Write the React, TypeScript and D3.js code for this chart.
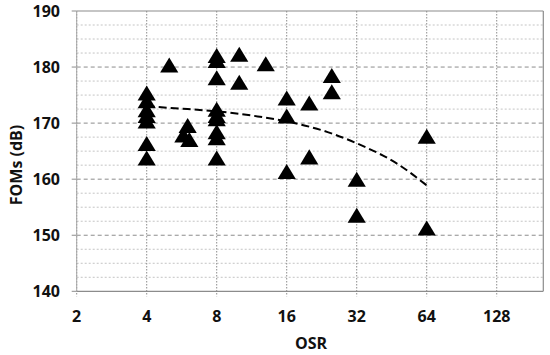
import React from 'react';
import * as d3 from 'd3';

// measured points (OSR, FOMs in dB)
const osrValues = [
  4, 4, 4, 4, 4, 4, 4,
  5,
  5.75, 6, 6.1,
  8, 8, 8, 8, 8, 8, 8, 8, 8,
  10, 10,
  13,
  16, 16, 16,
  20, 20,
  25, 25,
  32, 32,
  64, 64,
];
const fomValues = [
  175.2, 173.8, 172.2, 171.2, 170.2, 166.2, 163.6,
  180.2,
  167.7, 169.4, 166.9,
  181.9, 181.0, 177.9, 172.3, 171.2, 170.6, 168.3, 167.2, 163.6,
  182.1, 177.1,
  180.4,
  174.3, 171.1, 161.2,
  173.4, 163.8,
  178.3, 175.4,
  159.8, 153.4,
  167.5, 151.1,
];

// dashed trend line
const trendOsr = [4, 6, 8, 12, 16, 24, 32, 48, 64];
const trendFom = [173, 172.5, 172.1, 171.2, 170.3, 168.4, 166.4, 162.7, 158.9];

const xTicks = [2, 4, 8, 16, 32, 64, 128];
const yTicks = [140, 150, 160, 170, 180, 190];
const yMinorTicks = d3.range(140, 190.01, 2.5);

const width = 550;
const height = 355;
const left = 76.7;
const right = 543.3;
const top = 11;
const bottom = 291.3;
const font = "'Open Sans', sans-serif";

const App: React.FC = () => {
  const x = d3.scaleLog().base(2).domain([2, 203]).range([left, right]);
  const y = d3.scaleLinear().domain([140, 190]).range([bottom, top]);

  const trendLine = d3.line<number>()
    .x((_, i) => x(trendOsr[i]))
    .y(d => y(d))
    .curve(d3.curveMonotoneX);

  const tri = d3.symbol().type(d3.symbolTriangle).size(130)() || '';

  return (
    <svg width={width} height={height}
      style={{ position: 'absolute', left: 0, top: 0, background: '#fff' }}>
      {/* minor horizontal grid */}
      {yMinorTicks.filter(v => v % 10 !== 0).map(v => (
        <line key={'m' + v} x1={left} x2={right} y1={y(v)} y2={y(v)}
          stroke="#c4c4c4" strokeWidth={1} strokeDasharray="2,2" />
      ))}
      {/* major horizontal grid */}
      {yTicks.filter(v => v !== 140 && v !== 190).map(v => (
        <line key={'M' + v} x1={left} x2={right} y1={y(v)} y2={y(v)}
          stroke="#8c8c8c" strokeWidth={1} strokeDasharray="4,3" />
      ))}
      {/* vertical grid */}
      {xTicks.map(v => (
        <line key={'v' + v} x1={x(v)} x2={x(v)} y1={top} y2={bottom + 5}
          stroke="#8c8c8c" strokeWidth={1} strokeDasharray="1.5,1.5" />
      ))}
      {/* y ticks */}
      {yTicks.map(v => (
        <line key={'yt' + v} x1={left - 5} x2={left} y1={y(v)} y2={y(v)}
          stroke="#8c8c8c" strokeWidth={1} />
      ))}
      {/* frame */}
      <line x1={left} x2={right} y1={top} y2={top} stroke="#8c8c8c" strokeWidth={1.2} />
      <line x1={right} x2={right} y1={top} y2={bottom} stroke="#8c8c8c" strokeWidth={1.2} />
      <line x1={left} x2={right} y1={bottom} y2={bottom} stroke="#8c8c8c" strokeWidth={1.2} />
      <line x1={left} x2={left} y1={top} y2={bottom} stroke="#a8a8a8" strokeWidth={1} />

      {/* trend */}
      <path d={trendLine(trendFom) || ''} fill="none" stroke="#000"
        strokeWidth={2} strokeDasharray="8,4" />

      {/* points */}
      {osrValues.map((o, i) => (
        <path key={'p' + i} d={tri}
          transform={`translate(${x(o)},${y(fomValues[i]) + 1.5}) scale(1.05,1)`}
          fill="#000" />
      ))}

      {/* tick labels */}
      {yTicks.map(v => (
        <text key={'yl' + v} x={60} y={y(v)} dy="0.35em" textAnchor="end"
          fontFamily={font} fontWeight={700} fontSize={16} fill="#111">{v}</text>
      ))}
      {xTicks.map(v => (
        <text key={'xl' + v} x={x(v)} y={322} textAnchor="middle"
          fontFamily={font} fontWeight={700} fontSize={16} fill="#111">{v}</text>
      ))}
      <text x={311} y={348.5} textAnchor="middle"
        fontFamily={font} fontWeight={700} fontSize={16} fill="#111">OSR</text>
      <text transform="translate(16,165) rotate(-90)" dy="0.35em"
        textAnchor="middle" fontFamily={font} fontWeight={700} fontSize={16} fill="#111">FOMs (dB)</text>
    </svg>
  );
};

export default App;
